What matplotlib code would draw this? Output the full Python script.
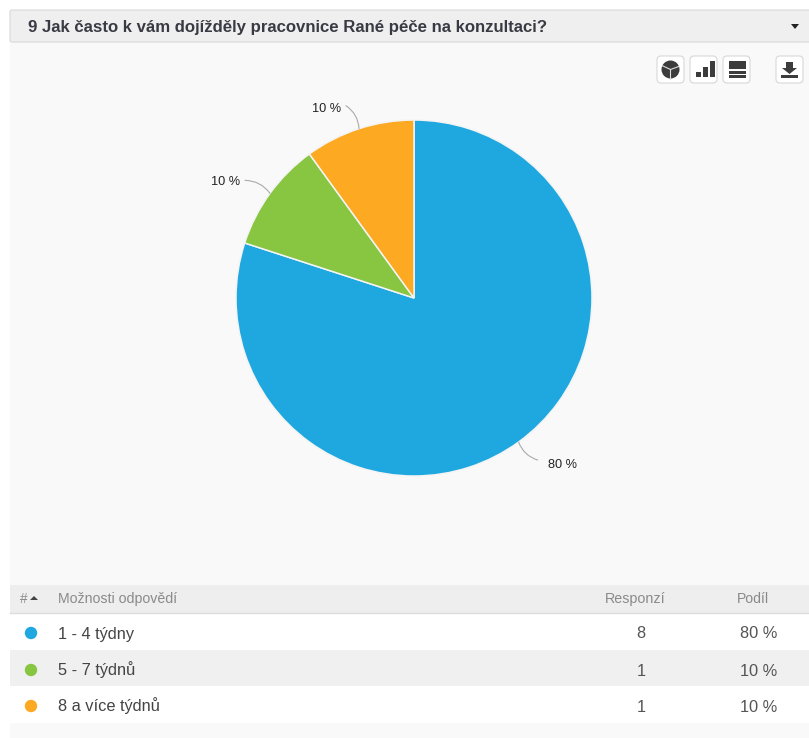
"""Pie chart with result table, survey question 9."""
import matplotlib.pyplot as plt
import numpy as np
from matplotlib.patches import Circle, FancyBboxPatch, Polygon, Rectangle

title = '9 Jak často k vám dojížděly pracovnice Rané péče na konzultaci?'
answers = ['1 - 4 týdny', '5 - 7 týdnů', '8 a více týdnů']
responses = [8, 1, 1]
shares = [80, 10, 10]
colors = ['#1fa8e0', '#88c540', '#fda921']

plt.rcParams['font.family'] = ['Liberation Sans', 'DejaVu Sans']
W, H = 809, 738
px = 0.72  # font size for one pixel at dpi 100

fig = plt.figure(figsize=(W / 100, H / 100), dpi=100, facecolor='white')

# whole figure axes in pixel coords for the page parts
ax = fig.add_axes([0, 0, 1, 1])
ax.set_xlim(0, W)
ax.set_ylim(H, 0)
ax.axis('off')

ax.add_patch(Rectangle((10, 42), W - 10, H - 42, fc='#f9f9f9', ec='none'))
ax.add_patch(FancyBboxPatch((10, 10), W + 10, 32, boxstyle='round,pad=0,rounding_size=2',
                            fc='#efefef', ec='#d8d8d8', lw=0.8))
ax.text(28, 27.5, title, fontsize=16.8 * px, fontweight='bold', color='#3a3a44', va='center')
ax.add_patch(Polygon([(791, 24), (799, 24), (795, 29)], fc='#222222', ec='none'))

# buttons
for x in [657, 690, 723, 776]:
    ax.add_patch(FancyBboxPatch((x, 56), 27, 27, boxstyle='round,pad=0,rounding_size=4',
                                fc='white', ec='#d8d8d8', lw=0.8))
icon = '#3c3c3c'
ax.add_patch(Circle((670.5, 69.5), 9, fc=icon, ec='none'))
for ang in [-20, 90, 205]:
    a = np.deg2rad(ang)
    ax.plot([670.5, 670.5 + 9 * np.cos(a)], [69.5, 69.5 + 9 * np.sin(a)], color='#dddddd', lw=0.8)
for x, top in [(696, 72), (703, 67), (710, 61)]:
    ax.add_patch(Rectangle((x, top), 5, 77 - top, fc=icon, ec='none'))
for top, h in [(61, 8), (71, 3), (75, 3)]:
    ax.add_patch(Rectangle((729, top), 17, h, fc=icon, ec='none'))
ax.add_patch(Polygon([(786, 62), (793, 62), (793, 68), (797, 68), (789.5, 74), (782, 68), (786, 68)],
                     fc=icon, ec='none'))
ax.add_patch(Rectangle((781, 75), 17, 2.5, fc=icon, ec='none'))

# table
ax.add_patch(Rectangle((10, 585), W - 10, 28, fc='#eeeeee', ec='none'))
ax.plot([10, W], [613, 613], color='#dddddd', lw=1)
head = '#8a8a8a'
ax.text(20, 603, '#', fontsize=13.5 * px, color=head)
ax.add_patch(Polygon([(30, 600), (38, 600), (34, 596)], fc='#444444', ec='none'))
ax.text(58, 603, 'Možnosti odpovědí', fontsize=14.1 * px, color=head)
ax.text(635, 603, 'Responzí', fontsize=14.2 * px, color=head, ha='center')
ax.text(753, 603, 'Podíl', fontsize=14 * px, color=head, ha='center')

row_top = [613, 650, 686]
row_h = [37, 36, 37]
row_bg = ['white', '#f0f0f0', 'white']
for i, answer in enumerate(answers):
    ax.add_patch(Rectangle((10, row_top[i]), W - 10, row_h[i], fc=row_bg[i], ec='none'))
    y = row_top[i] + 25.5
    ax.add_patch(Circle((31, row_top[i] + 20), 6.2, fc=colors[i], ec='none'))
    ax.text(58, y, answer, fontsize=16.4 * px, color='#444444')
    ax.text(641, y, str(responses[i]), fontsize=16.4 * px, color='#555555', ha='center')
    ax.text(758.5, y, f'{shares[i]} %', fontsize=16.4 * px, color='#555555', ha='center')

# pie, centre 414,298 radius 178
cx, cy, r = 414, 298, 178
pie_ax = fig.add_axes([(cx - r) / W, 1 - (cy + r) / H, 2 * r / W, 2 * r / H])
wedges, _ = pie_ax.pie(responses, colors=colors, startangle=90, counterclock=False, radius=1,
                       wedgeprops={'edgecolor': '#f4f4f4', 'linewidth': 1.1})
pie_ax.set_xlim(-1, 1)
pie_ax.set_ylim(-1, 1)

# label and leader line offsets from the wedge edge, in pixels
text_off = [(29, -22.5), (-30, 11), (-18, 20)]
line_off = [(19, -18), (-25, 13), (-13, 23)]
has = ['left', 'right', 'right']
for w, share, t_off, l_off, ha in zip(wedges, shares, text_off, line_off, has):
    a = np.deg2rad((w.theta1 + w.theta2) / 2)
    edge = (np.cos(a), np.sin(a))
    pie_ax.annotate('', xy=edge, xytext=(l_off[0] * px, l_off[1] * px),
                    xycoords='data', textcoords='offset points', annotation_clip=False,
                    arrowprops={'arrowstyle': '-', 'color': '#aaaaaa', 'lw': 0.8,
                                'connectionstyle': 'arc3,rad=-0.25',
                                'shrinkA': 0, 'shrinkB': 0})
    pie_ax.annotate(f'{share} %', xy=edge, xycoords='data',
                    xytext=(t_off[0] * px, t_off[1] * px), textcoords='offset points',
                    fontsize=12.8 * px, color='#222222', ha=ha, va='center',
                    annotation_clip=False)

fig.savefig('out.png', dpi=100)
